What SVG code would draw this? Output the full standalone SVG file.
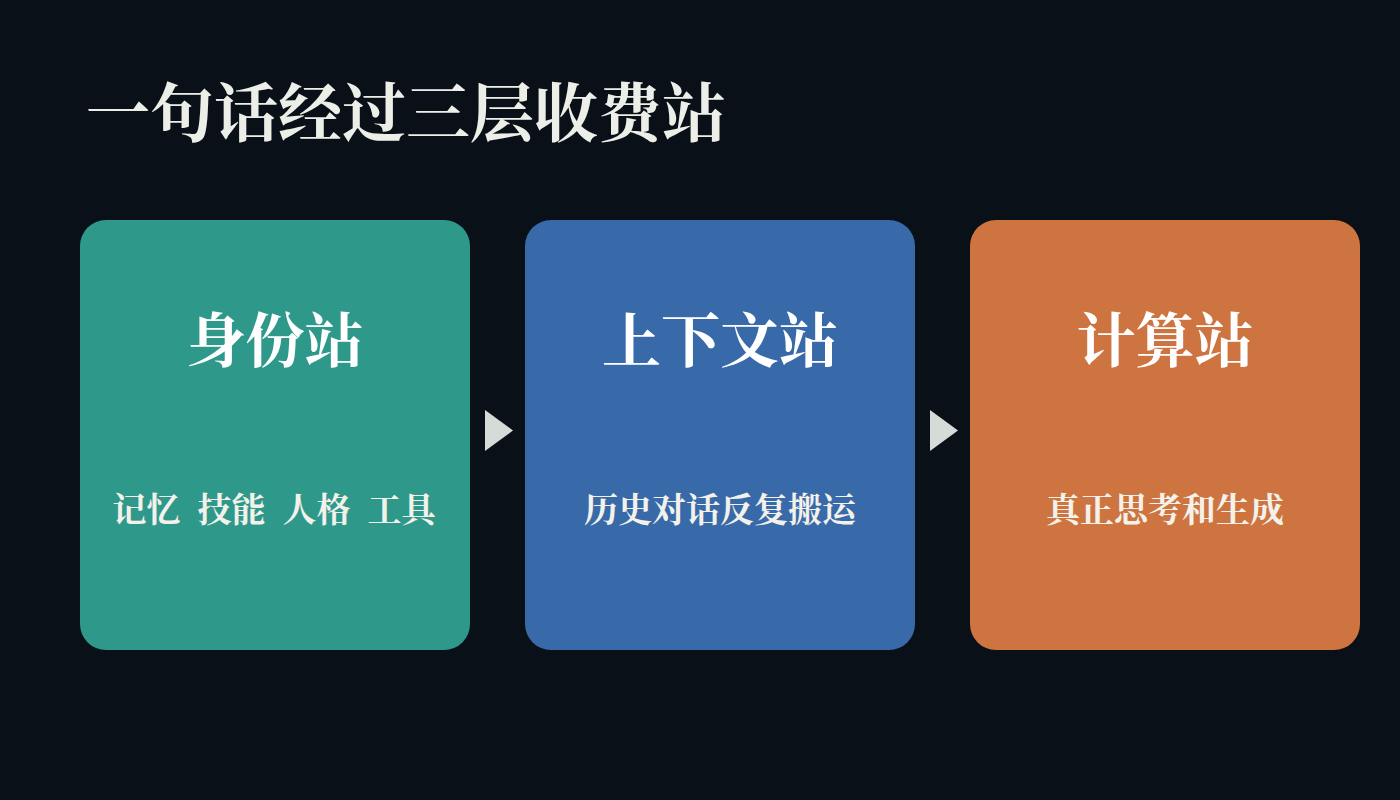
<svg xmlns="http://www.w3.org/2000/svg" width="1400" height="800" viewBox="0 0 1400 800">
<style>
.t{font-family:"Noto Serif CJK SC","Source Han Serif SC","Noto Sans CJK SC",serif;font-weight:700}
.h{fill:#eceee8;font-size:64px}
.ct{fill:#ffffff;font-size:59px;text-anchor:middle}
.cs{fill:#f3f1e9;font-size:34px;text-anchor:middle}
.arr{fill:#d5dcd8}
</style>
<rect width="1400" height="800" fill="#0a1018"/>
<text class="t h" x="86" y="136">一句话经过三层收费站</text>
<g id="node-identity">
<rect x="80" y="220" width="390" height="430" rx="26" fill="#2e988b"/>
<text class="t ct" x="275" y="362">身份站</text>
<text class="t cs" x="274" y="522" xml:space="preserve">记忆  技能  人格  工具</text>
</g>
<g id="node-context">
<rect x="525" y="220" width="390" height="430" rx="26" fill="#3869a9"/>
<text class="t ct" x="720" y="362">上下文站</text>
<text class="t cs" x="720" y="522">历史对话反复搬运</text>
</g>
<g id="node-compute">
<rect x="970" y="220" width="390" height="430" rx="26" fill="#cd7440"/>
<text class="t ct" x="1165" y="362">计算站</text>
<text class="t cs" x="1165" y="522">真正思考和生成</text>
</g>
<g id="connectors">
<polygon class="arr" points="485,410 513,430.5 485,451"/>
<polygon class="arr" points="930,410 958,430.5 930,451"/>
</g>
</svg>
